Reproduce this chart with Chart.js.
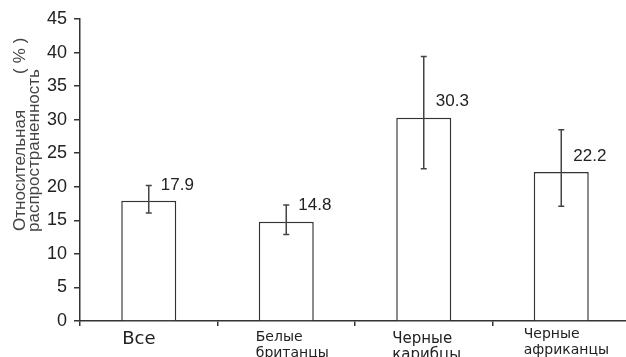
<!DOCTYPE html>
<html>
<head>
<meta charset="utf-8">
<script src="https://cdn.jsdelivr.net/npm/chart.js@4.4.0/dist/chart.umd.min.js"></script>
<style>
html, body { margin: 0; padding: 0; background: #fff; overflow: hidden; }
canvas { display: block; }
</style>
</head>
<body>
<canvas id="prevCanvas" width="630" height="357"></canvas>
<script>
// data
var groups = [['Все'], ['Белые', 'британцы'], ['Черные', 'карибцы'], ['Черные', 'африканцы']];
var prevalence = [17.9, 14.8, 30.3, 22.2];
var ciLow = [16.1, 12.9, 22.7, 17.1];
var ciHigh = [20.2, 17.3, 39.4, 28.5];
var yMax = 45;
var yStep = 5;
var yTitle = ['Относительная', '(%)', 'распространенность'];

// label look per group (the source uses uneven sizes)
var labelSize = [18, 14, 15, 14];
var labelShift = [1, -3, -4, -10];
var labelDrop = [23, 20, 22, 17];

var ink = '#333';

var extras = {
    id: 'extras',
    afterDatasetsDraw: function(chart) {
        var ctx = chart.ctx;
        var meta = chart.getDatasetMeta(0);
        var y = chart.scales.y;
        var area = chart.chartArea;
        ctx.save();
        // error bars + value labels
        for (var i = 0; i < prevalence.length; i++) {
            var bar = meta.data[i];
            var x = bar.x;
            var top = y.getPixelForValue(ciHigh[i]);
            var bot = y.getPixelForValue(ciLow[i]);
            ctx.strokeStyle = '#444';
            ctx.lineWidth = 1.5;
            ctx.beginPath();
            ctx.moveTo(x, top); ctx.lineTo(x, bot);
            ctx.moveTo(x - 3, top); ctx.lineTo(x + 3, top);
            ctx.moveTo(x - 3, bot); ctx.lineTo(x + 3, bot);
            ctx.stroke();

            ctx.fillStyle = '#222';
            ctx.font = '17px "Liberation Sans"';
            ctx.textAlign = 'left';
            ctx.textBaseline = 'middle';
            ctx.fillText(prevalence[i].toFixed(1), x + 12, bar.y - 16);

            // category labels
            var left = bar.x - bar.width / 2 + labelShift[i];
            ctx.font = labelSize[i] + 'px "DejaVu Sans"';
            ctx.textBaseline = 'alphabetic';
            for (var k = 0; k < groups[i].length; k++) {
                ctx.fillText(groups[i][k], left, area.bottom + labelDrop[i] + k * 16);
            }
        }
        // y title, rotated
        ctx.fillStyle = '#444';
        ctx.font = '17px "Liberation Sans"';
        ctx.textAlign = 'left';
        ctx.textBaseline = 'alphabetic';
        var spots = [[25, 231], [25, 74], [39, 232]];
        var spacing = ['0px', '5px', '0px'];
        for (var j = 0; j < yTitle.length; j++) {
            ctx.save();
            ctx.translate(spots[j][0], spots[j][1]);
            ctx.rotate(-Math.PI / 2);
            ctx.letterSpacing = spacing[j];
            ctx.fillText(yTitle[j], 0, 0);
            ctx.restore();
        }
        ctx.restore();
    }
};

var ctx = document.getElementById('prevCanvas').getContext('2d');
var chart = new Chart(ctx, {
    type: 'bar',
    data: {
        labels: groups,
        datasets: [{
            data: prevalence,
            backgroundColor: '#fff',
            borderColor: ink,
            borderWidth: 1.5,
            borderSkipped: 'start',
            barPercentage: 0.4,
            categoryPercentage: 1
        }]
    },
    options: {
        responsive: false,
        animation: false,
        devicePixelRatio: 1,
        layout: { padding: { top: 19, right: 0, bottom: 0, left: 0 } },
        plugins: { legend: { display: false }, tooltip: { enabled: false } },
        scales: {
            x: {
                ticks: { display: false },
                grid: { offset: true, drawOnChartArea: false, tickLength: 5, color: ink, lineWidth: 1.5 },
                border: { color: ink, width: 1.5 },
                afterFit: function(s) { s.height = 36; }
            },
            y: {
                min: 0,
                max: yMax,
                ticks: { stepSize: yStep, padding: 7, color: '#222', font: { family: 'Liberation Sans', size: 18 } },
                grid: { drawOnChartArea: false, tickLength: 6, color: ink, lineWidth: 1.5 },
                border: { color: ink, width: 1.5 },
                afterFit: function(s) { s.width = 80; }
            }
        }
    },
    plugins: [extras]
});
</script>
</body>
</html>
